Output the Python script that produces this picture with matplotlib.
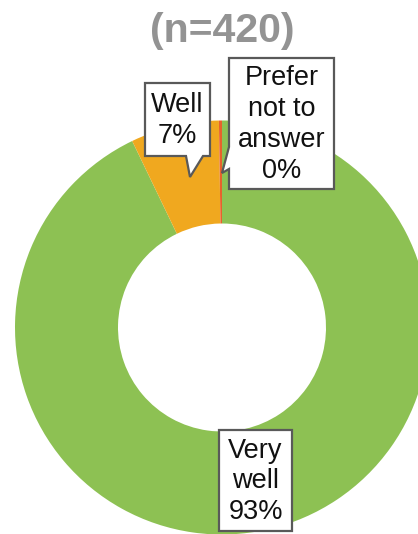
import matplotlib.pyplot as plt
from matplotlib.patches import Polygon

# data
labels = ["Very\nwell\n93%", "Well\n7%", "Prefer\nnot to\nanswer\n0%"]
counts = [390, 29, 1]
colors = ["#8DC153", "#F0A81F", "#E8612C"]
subtitle = "(n=420)"

W, H = 418, 534
fig = plt.figure(figsize=(W / 100, H / 100), dpi=100)
ax = fig.add_axes([0, 0, 1, 1])

# work in pixel units, y measured from the top
def py(y):
    return H - y

ax.pie(counts, colors=colors, radius=207, center=(222, py(327.5)),
       startangle=90, counterclock=False,
       wedgeprops=dict(width=103, edgecolor="none"))
ax.set_xlim(0, W)
ax.set_ylim(0, H)
ax.set_aspect("equal")
ax.axis("off")

ax.text(222, py(31), subtitle, ha="center", va="center", fontsize=29.5,
        fontweight="bold", color="#939393", family="Liberation Sans")


def callout(text, box, pointer=None):
    l, t, r, b = box
    pts = [(l, t), (r, t), (r, b)]
    if pointer and pointer[0] == "bottom":
        _, x1, x2, tip = pointer
        pts += [(x2, b), tip, (x1, b)]
    pts.append((l, b))
    if pointer and pointer[0] == "left":
        _, y1, y2, tip = pointer
        pts += [(l, y2), tip, (l, y1)]
    poly = Polygon([(x, py(y)) for x, y in pts], closed=True, fc="white",
                   ec="#595959", lw=1.6, zorder=5)
    ax.add_patch(poly)
    ax.text((l + r) / 2, py((t + b) / 2 + 1), text, ha="center", va="center",
            fontsize=19.5, linespacing=1.24, color="#111111",
            family="Liberation Sans", zorder=6)


callout(labels[1], (145, 83, 210, 156), ("bottom", 186, 203, (190, 177)))
callout(labels[2], (229, 58, 334, 189), ("left", 147, 169, (222, 173)))
callout(labels[0], (219, 430, 292, 531))

plt.savefig("out.png", dpi=100)
